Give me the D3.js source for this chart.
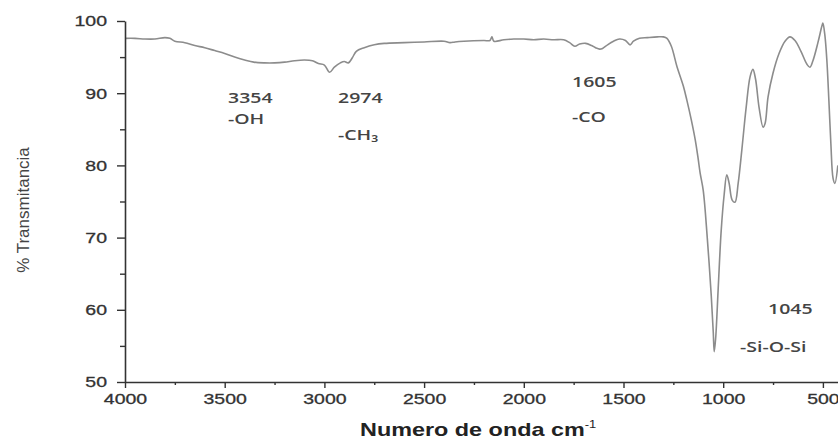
<!DOCTYPE html>
<html>
<head>
<meta charset="utf-8">
<script src="https://cdn.jsdelivr.net/npm/d3@7"></script>
<style>
  html, body { margin: 0; padding: 0; background: #fff; }
  svg { display: block; }
</style>
</head>
<body>
<svg id="chart" width="838" height="439"></svg>
<script>
// FTIR spectrum: wavenumber (cm^-1) and % transmittance
const wavenumbers = [
  4000, 3950, 3900, 3850, 3800, 3775, 3750, 3700, 3650, 3600, 3550, 3500, 3450, 3400,
  3354, 3300, 3250, 3200, 3150, 3100, 3060, 3030, 3000, 2974, 2950, 2920, 2900, 2880,
  2860, 2840, 2800, 2750, 2700, 2600, 2500, 2400, 2370, 2345, 2300, 2200, 2170, 2160,
  2150, 2100, 2050, 2000, 1950, 1900, 1850, 1800, 1770, 1744, 1720, 1690, 1660, 1640,
  1620, 1605, 1580, 1550, 1520, 1490, 1467, 1450, 1420, 1380, 1330, 1300, 1282, 1260,
  1232, 1200, 1182, 1160, 1140, 1126, 1116, 1100, 1080, 1060, 1050, 1045, 1038, 1025,
  1010, 995, 982, 970, 955, 941, 925, 906, 885, 865, 851, 838, 820, 800, 790, 775,
  750, 720, 690, 665, 640, 610, 580, 565, 550, 525, 505, 500, 490, 480, 470, 460,
  449, 440, 425
];
const transmittance = [
  97.6, 97.6, 97.5, 97.5, 97.7, 97.6, 97.2, 97.0, 96.6, 96.3, 95.9, 95.5, 95.0, 94.6,
  94.3, 94.2, 94.2, 94.3, 94.5, 94.6, 94.5, 94.1, 93.9, 92.9, 93.6, 94.2, 94.4, 94.2,
  94.9, 95.8, 96.3, 96.7, 96.9, 97.0, 97.1, 97.2, 97.0, 97.1, 97.2, 97.3, 97.3, 97.8,
  97.2, 97.4, 97.5, 97.5, 97.4, 97.5, 97.4, 97.4, 97.0, 96.5, 96.8, 96.9, 96.6, 96.3,
  96.1, 96.2, 96.7, 97.2, 97.5, 97.3, 96.7, 97.2, 97.6, 97.7, 97.8, 97.8, 97.6, 96.5,
  93.7, 91.0, 89.0, 86.3, 83.5, 81.0, 79.0, 76.5, 70.0, 62.0, 57.0, 54.2, 56.0, 63.0,
  71.0, 76.0, 78.7, 77.5, 75.2, 74.9, 77.5, 82.3, 88.0, 92.3, 93.3, 92.0, 88.0, 85.3, 85.8, 89.5,
  92.8, 95.5, 97.2, 97.8, 97.3, 95.8, 94.0, 93.6, 94.5, 97.0, 99.3, 99.7, 98.0, 94.5, 89.0, 83.0,
  78.2, 77.5, 80.0
];

// Axis ticks
const xTicks = [4000, 3500, 3000, 2500, 2000, 1500, 1000, 500];
const xMinorTicks = [3750, 3250, 2750, 2250, 1750, 1250, 750];
const yTicks = [50, 60, 70, 80, 90, 100];
const yMinorTicks = [55, 65, 75, 85, 95];

// Peak annotations
const peakNumbers = ["3354", "2974", "1605", "1045"];
const peakGroups = ["-OH", "-CH\u2083", "-CO", "-Si-O-Si"];

const svg = d3.select("#chart");
const plotLeft = 125, plotTop = 21, plotBottom = 382;
const SX = 1.3; // horizontal text stretch

const x = d3.scaleLinear().domain([4000, 400]).range([plotLeft, plotLeft + 3600 * 0.1994]);
const y = d3.scaleLinear().domain([50, 100]).range([plotBottom, plotTop]);

const axisColor = "#333";

// Spectrum line
const line = d3.line()
  .x((d, i) => x(wavenumbers[i]))
  .y((d, i) => y(transmittance[i]))
  .curve(d3.curveCatmullRom.alpha(0.5));

svg.append("path")
  .datum(transmittance)
  .attr("d", line)
  .attr("fill", "none")
  .attr("stroke", "#8c8c8c")
  .attr("stroke-width", 1.6)
  .attr("stroke-linejoin", "round");

// X axis
const gx = svg.append("g").attr("transform", `translate(0,${plotBottom})`);
gx.call(d3.axisBottom(x).tickValues(xTicks).tickFormat(d3.format("d"))
  .tickSize(6).tickPadding(5).tickSizeOuter(0));
gx.append("g").call(d3.axisBottom(x).tickValues(xMinorTicks).tickSize(3).tickFormat("").tickSizeOuter(0))
  .select(".domain").remove();
gx.selectAll("path.domain").attr("stroke", axisColor).attr("stroke-width", 1.6);
gx.selectAll("line").attr("stroke", axisColor).attr("stroke-width", 1.4);
gx.selectAll("text")
  .attr("fill", "#333")
  .attr("stroke", "#333")
  .attr("stroke-width", 0.3)
  .style("font-family", "'Liberation Sans', Arial, sans-serif")
  .style("font-size", "15px")
  .attr("transform", `scale(${SX},1)`);

// Y axis
const gy = svg.append("g").attr("transform", `translate(${plotLeft},0)`);
gy.call(d3.axisLeft(y).tickValues(yTicks).tickFormat(d3.format("d"))
  .tickSize(8).tickPadding(10).tickSizeOuter(0));
gy.append("g").call(d3.axisLeft(y).tickValues(yMinorTicks).tickSize(5).tickFormat("").tickSizeOuter(0))
  .select(".domain").remove();
gy.selectAll("path.domain").attr("stroke", axisColor).attr("stroke-width", 1.6);
gy.selectAll("line").attr("stroke", axisColor).attr("stroke-width", 1.4);
gy.selectAll("text")
  .attr("fill", "#333")
  .attr("stroke", "#333")
  .attr("stroke-width", 0.3)
  .attr("x", -18 / SX)
  .style("font-family", "'Liberation Sans', Arial, sans-serif")
  .style("font-size", "15px")
  .attr("transform", `scale(${SX},1)`);

// Axis titles
const xt = svg.append("g").attr("transform", `translate(360,436) scale(${SX},1)`);
xt.append("text")
  .attr("x", 0).attr("y", 0)
  .attr("fill", "#222")
  .style("font-family", "'Liberation Sans', Arial, sans-serif")
  .style("font-size", "18px")
  .style("font-weight", "bold")
  .text("Numero de onda cm")
  .append("tspan")
  .attr("dy", -8)
  .style("font-size", "10px")
  .style("font-weight", "normal")
  .text("-1");

svg.append("text")
  .attr("transform", "translate(29,210) rotate(-90)")
  .attr("text-anchor", "middle")
  .attr("fill", "#444")
  .style("font-family", "'Liberation Sans', Arial, sans-serif")
  .style("font-size", "17px")
  .text("% Transmitancia");

// Peak annotations (number above functional group)
const annoNumPos = [[228, 103], [338, 103], [572, 87], [768, 314]];
const annoGrpPos = [[228, 124], [338, 140], [572, 122], [740, 352]];
const annoFont = "'Open Sans', 'Noto Sans', sans-serif";
peakNumbers.forEach((t, i) => {
  svg.append("text")
    .attr("transform", `translate(${annoNumPos[i][0]},${annoNumPos[i][1]}) scale(${SX},1)`)
    .attr("fill", "#444")
    .style("font-family", annoFont)
    .style("font-size", "15px")
    .style("font-weight", "600")
    .text(t);
  svg.append("text")
    .attr("transform", `translate(${annoGrpPos[i][0]},${annoGrpPos[i][1]}) scale(${SX},1)`)
    .attr("fill", "#444")
    .style("font-family", annoFont)
    .style("font-size", "15px")
    .style("font-weight", "600")
    .text(peakGroups[i]);
});
</script>
</body>
</html>
